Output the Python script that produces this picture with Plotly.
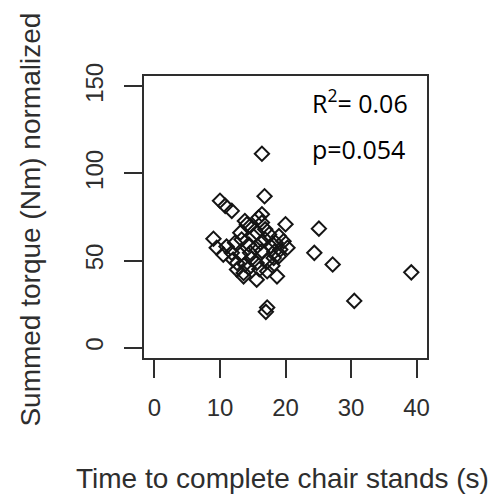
import plotly.graph_objects as go

# Data
time_s = [16.4, 16.8, 10.0, 10.8, 11.8, 16.4, 20.0, 25.1, 24.4, 27.2, 30.5, 39.2,
          17.0, 17.2, 18.7, 9.0, 9.5, 10.5,
          13.8, 14.6, 15.9, 16.9, 19.0, 20.3, 13.1, 12.3, 13.3, 15.1, 16.2, 17.7,
          19.2, 11.8, 13.1, 14.6, 16.4, 18.2, 12.6, 13.8, 15.6, 17.2, 19.0, 12.6,
          13.6, 14.4, 15.6, 13.6, 17.2, 14.1, 16.4, 15.6, 14.4, 15.4, 16.9, 18.5,
          19.7, 11.0, 12.0, 14.8, 16.0, 18.0, 17.5, 18.3]
torque = [111.3, 86.9, 84.3, 81.4, 78.5, 76.6, 70.8, 68.3, 54.4, 47.7, 26.8, 43.2,
          20.5, 23.0, 40.9, 62.5, 57.3, 53.4,
          72.7, 69.8, 74.7, 67.9, 64.0, 57.3, 66.0, 60.2, 62.1, 64.0, 60.2, 58.3,
          56.3, 54.4, 53.4, 54.4, 55.4, 51.5, 48.6, 47.7, 48.6, 49.6, 52.5, 44.8,
          42.8, 45.7, 39.0, 40.9, 43.8, 70.8, 71.8, 66.0, 59.2, 57.3, 62.1, 60.2,
          61.1, 58.0, 50.5, 51.0, 45.0, 47.0, 65.0, 55.0]

x_ticks = [0, 10, 20, 30, 40]
y_ticks = [0, 50, 100, 150]
x_title = "Time to complete chair stands (s)"
y_title = "Summed torque (Nm) normalized"
r2_text = "R<sup>2</sup>= 0.06"
p_text = "p=0.054"

ink = "#2e2e2e"
fig = go.Figure(go.Scatter(
    x=time_s, y=torque, mode="markers",
    marker=dict(symbol="diamond-open", size=11, color="#151515",
                line=dict(width=2, color="#151515")),
    showlegend=False, hoverinfo="skip"))

axis_common = dict(showline=True, mirror=True, linecolor=ink, linewidth=1.5,
                   ticks="outside", ticklen=18, tickwidth=1.5, tickcolor=ink,
                   showgrid=False, zeroline=False,
                   tickfont=dict(family="Liberation Sans", size=24, color=ink))

fig.update_layout(
    width=500, height=499,
    margin=dict(l=144, r=73, t=76, b=141),
    paper_bgcolor="white", plot_bgcolor="white",
    xaxis=dict(range=[-1.6, 41.6], tickvals=x_ticks, ticklabelstandoff=9, **axis_common),
    yaxis=dict(range=[-6, 156], tickvals=y_ticks, tickangle=-90, ticklabelstandoff=12,
               **axis_common),
    annotations=[
        dict(text=x_title, xref="paper", yref="paper", x=0.49, y=-0.4266,
             xanchor="center", yanchor="middle", showarrow=False,
             font=dict(family="Liberation Sans", size=28, color=ink)),
        dict(text=y_title, xref="paper", yref="paper", x=-0.40, y=0.49,
             xanchor="center", yanchor="middle", textangle=-90, showarrow=False,
             font=dict(family="Liberation Sans", size=28, color=ink)),
        dict(text=r2_text, xref="paper", yref="paper", x=0.585, y=0.908,
             xanchor="left", yanchor="middle", showarrow=False,
             font=dict(family="Open Sans", size=25, color="black")),
        dict(text=p_text, xref="paper", yref="paper", x=0.585, y=0.74,
             xanchor="left", yanchor="middle", showarrow=False,
             font=dict(family="Open Sans", size=25, color="black")),
    ],
)

fig.write_html("out.html")
